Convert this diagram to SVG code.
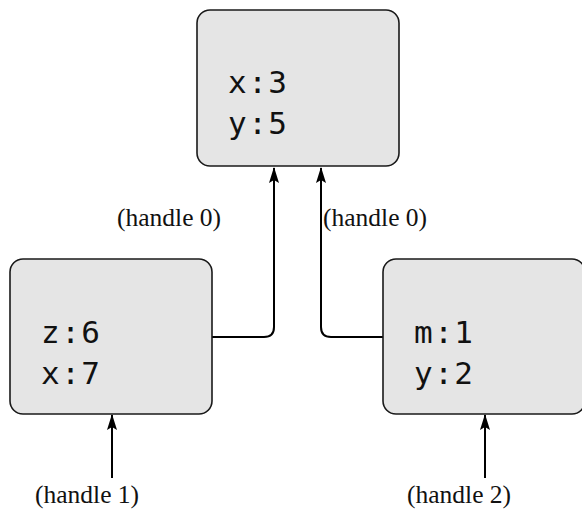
<svg xmlns="http://www.w3.org/2000/svg" width="582" height="511" viewBox="0 0 582 511">
<style>
.box{fill:#e5e5e5;stroke:#1a1a1a;stroke-width:1.6}
.mono{font-family:"DejaVu Sans Mono",monospace;font-size:31px;fill:#111;letter-spacing:1.5px}
.lbl{font-family:"Liberation Serif",serif;font-size:25.5px;fill:#111}
.edge{fill:none;stroke:#000;stroke-width:2}
</style>
<defs>
<marker id="ah" viewBox="0 0 16 10" refX="15" refY="5" markerWidth="16" markerHeight="10" markerUnits="userSpaceOnUse" orient="auto">
<path d="M0,0 L16,5 L0,10 L3,5 Z" fill="#000"/>
</marker>
</defs>
<g id="connectors">
<path class="edge" d="M212,337 H264 Q274,337 274,327 V168" marker-end="url(#ah)"/>
<path class="edge" d="M383,337 H331 Q321,337 321,327 V168" marker-end="url(#ah)"/>
<path class="edge" d="M112,478 V415" marker-end="url(#ah)"/>
<path class="edge" d="M485,478 V415" marker-end="url(#ah)"/>
</g>
<g id="node-top">
<rect class="box" x="197" y="10" width="202" height="156" rx="13"/>
<text class="mono" x="228" y="93">x:3</text>
<text class="mono" x="228" y="134">y:5</text>
</g>
<g id="node-left">
<rect class="box" x="10" y="259" width="202" height="155" rx="13"/>
<text class="mono" x="41" y="343">z:6</text>
<text class="mono" x="41" y="384">x:7</text>
</g>
<g id="node-right">
<rect class="box" x="383" y="259" width="202" height="155" rx="13"/>
<text class="mono" x="414" y="343">m:1</text>
<text class="mono" x="414" y="384">y:2</text>
</g>
<g id="labels">
<text class="lbl" x="117" y="226">(handle 0)</text>
<text class="lbl" x="323" y="226">(handle 0)</text>
<text class="lbl" x="35" y="503">(handle 1)</text>
<text class="lbl" x="407" y="503">(handle 2)</text>
</g>
</svg>
